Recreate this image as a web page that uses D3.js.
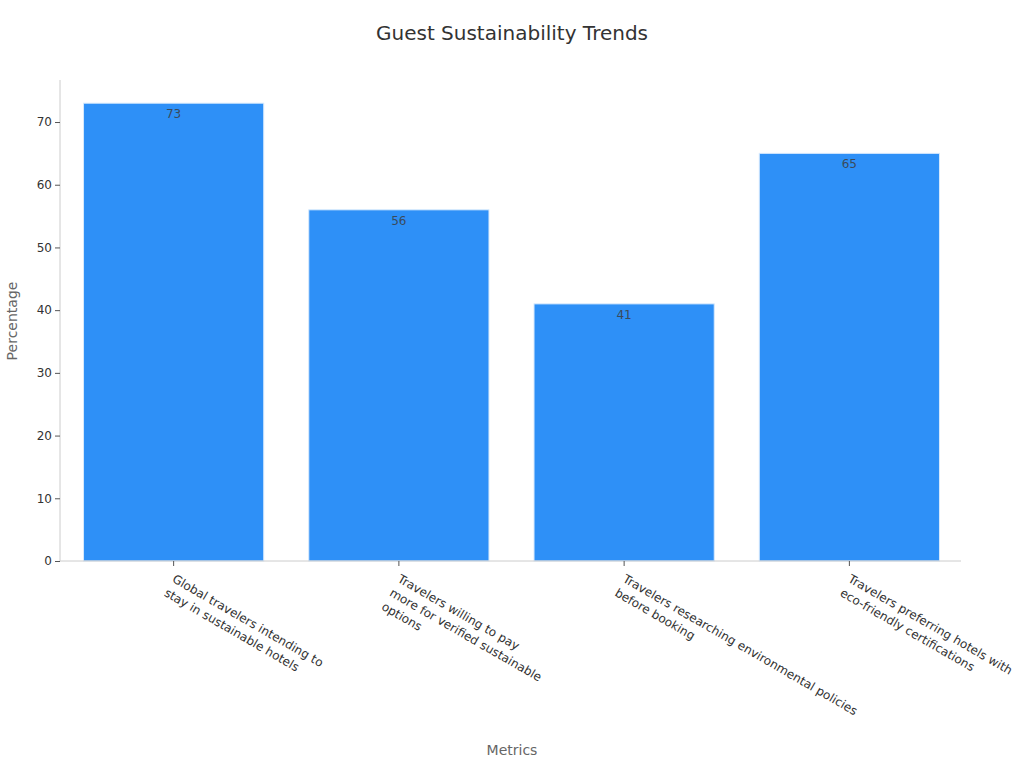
<!DOCTYPE html>
<html><head><meta charset="utf-8">
<script src="https://cdn.jsdelivr.net/npm/d3@7"></script>
<style>body{margin:0;background:#fff;font-family:"DejaVu Sans",sans-serif;}</style>
</head><body>
<svg id="c" width="1024" height="768"></svg>
<script>
const categories = [
  "Global travelers intending to\nstay in sustainable hotels",
  "Travelers willing to pay\nmore for verified sustainable\noptions",
  "Travelers researching environmental policies\nbefore booking",
  "Travelers preferring hotels with\neco-friendly certifications"
];
const values = [73, 56, 41, 65];
const yTicks = [0, 10, 20, 30, 40, 50, 60, 70];
const title = "Guest Sustainability Trends";
const xTitle = "Metrics";
const yTitle = "Percentage";

const svg = d3.select("#c");
const m = {l: 60, r: 961, t: 80, b: 561};
const x = d3.scaleBand().domain(categories).range([m.l, m.r]).paddingInner(0.2).paddingOuter(0.1);
const y = d3.scaleLinear().domain([0, 76.7]).range([m.b, m.t]);

svg.append("text").attr("x", 512).attr("y", 40).attr("text-anchor", "middle")
  .attr("font-size", 20).attr("fill", "#333").text(title);

// y axis
const ya = svg.append("g").attr("transform", `translate(${m.l},0)`)
  .call(d3.axisLeft(y).tickValues(yTicks).tickSize(5).tickPadding(3));
ya.select(".domain").attr("stroke", "#ccc").attr("d", `M0,${m.t}V${m.b}`);
ya.selectAll(".tick line").attr("stroke", "#555");
ya.selectAll(".tick text").attr("font-size", 12).attr("fill", "#333").attr("font-family", "DejaVu Sans");

// bars
svg.append("g").selectAll("rect").data(values).join("rect")
  .attr("x", (d, i) => x(categories[i]) + 1)
  .attr("y", d => y(d))
  .attr("width", x.bandwidth())
  .attr("height", d => y(0) - y(d))
  .attr("fill", "#2e90f7")
  .attr("stroke", "#d6e9fd").attr("stroke-width", 1);

svg.append("g").selectAll("text").data(values).join("text")
  .attr("x", (d, i) => x(categories[i]) + x.bandwidth() / 2 + 1)
  .attr("y", d => y(d) + 15)
  .attr("text-anchor", "middle").attr("font-size", 12).attr("fill", "#3a4a5c")
  .text(d => d);

// x axis
const xa = svg.append("g").attr("transform", `translate(1,${m.b})`)
  .call(d3.axisBottom(x).tickSize(5).tickFormat(""));
xa.select(".domain").attr("stroke", "#ccc").attr("d", `M${m.l - 1},0H${m.r - 1}`);
xa.selectAll(".tick line").attr("stroke", "#555");

const lab = svg.append("g").selectAll("text").data(categories).join("text")
  .attr("transform", d => `translate(${x(d) + x.bandwidth() / 2 + 3},${m.b + 13}) rotate(30)`)
  .attr("font-size", 12).attr("fill", "#333");
lab.each(function(d) {
  const t = d3.select(this);
  d.split("\n").forEach((line, i) => {
    t.append("tspan").attr("x", 0).attr("y", 0).attr("dy", (8.5 + i * 16) + "px").text(line);
  });
});

svg.append("text").attr("x", 512).attr("y", 755).attr("text-anchor", "middle")
  .attr("font-size", 14).attr("fill", "#666").text(xTitle);
svg.append("text").attr("transform", "translate(17,321) rotate(-90)").attr("text-anchor", "middle")
  .attr("font-size", 14).attr("fill", "#666").text(yTitle);
</script>
</body></html>
